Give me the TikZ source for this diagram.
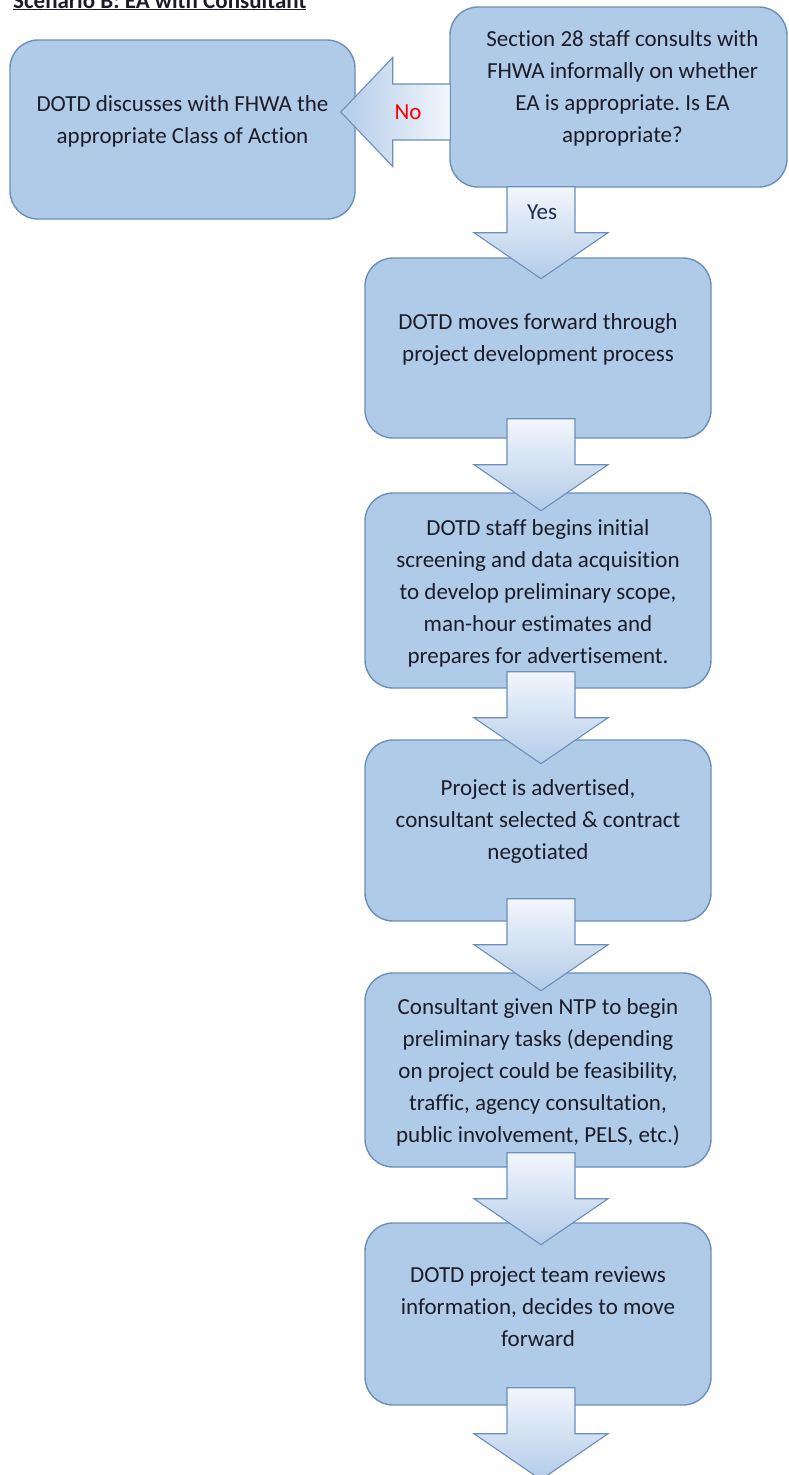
\documentclass[tikz,border=0pt]{standalone}
\usepackage{fontspec}
\setmainfont{Carlito}[Ligatures={NoCommon}]
\frenchspacing
\usetikzlibrary{calc}
\definecolor{boxfill}{HTML}{B0CBE8}
\definecolor{boxline}{HTML}{6C8EBA}
\definecolor{arrtop}{HTML}{F2F6FC}
\definecolor{arrbot}{HTML}{B3CCE9}
\definecolor{txt}{HTML}{1C1C28}
\definecolor{yescol}{HTML}{1F2A55}
\newcommand\downarr[3]{%
  \path[arrowbase, vshade] let \p1=(#1.south), \p2=(#2.north) in
    (\x2+3pt-34pt,\y1+#3) -- (\x2+3pt+34pt,\y1+#3) -- (\x2+3pt+34pt,\y1+#3-46pt)
    -- (\x2+3pt+67pt,\y1+#3-46pt) -- (\x2+3pt,\y1+#3-92pt) -- (\x2+3pt-67pt,\y1+#3-46pt)
    -- (\x2+3pt-34pt,\y1+#3-46pt) -- cycle;
}
\begin{document}
\begin{tikzpicture}[x=1pt,y=1pt,
  boxstyle/.style={draw=boxline, fill=boxfill, line width=1.4pt, rounded corners=28pt, inner sep=0pt},
  boxtext/.style={text=txt, align=center, font=\fontsize{23}{32}\selectfont, inner sep=0pt},
  arrowbase/.style={draw=boxline, line width=1.1pt, line join=miter},
  vshade/.style={top color=arrtop, bottom color=arrbot},
  hshade/.style={left color=arrbot, right color=arrtop},
  ]
\useasboundingbox (0,0) rectangle (788,-1475);

% title
\node[anchor=base west, inner sep=0pt, font=\bfseries\fontsize{23}{28}\selectfont, text=txt] (title) at (13,-8) {\underline{Scenario B: EA with Consultant}};

% boxes
\node[boxstyle, minimum width=345pt, minimum height=179pt] (cls) at (182.5,-129.5) {};
\node[boxstyle, minimum width=337pt, minimum height=180pt] (q) at (618.5,-97) {};
\node[boxstyle, minimum width=346pt, minimum height=180pt] (b2) at (538,-348) {};
\node[boxstyle, minimum width=346pt, minimum height=195pt] (b3) at (538,-590.5) {};
\node[boxstyle, minimum width=346pt, minimum height=181pt] (b4) at (538,-830.5) {};
\node[boxstyle, minimum width=346pt, minimum height=194pt] (b5) at (538,-1070) {};
\node[boxstyle, minimum width=346pt, minimum height=182pt] (b6) at (538,-1314) {};
\coordinate (end) at (538,-1500);

% "No" block arrow
\path[arrowbase, hshade] let \p1=(q.west), \p2=(cls.east) in
  (\x1+1pt,\y1-15pt+28pt) -- (\x2+37pt,\y1-15pt+28pt) -- (\x2+37pt,\y1-15pt+54.5pt)
  -- (\x2-15pt,\y1-15pt) -- (\x2+37pt,\y1-15pt-54.5pt) -- (\x2+37pt,\y1-15pt-28pt)
  -- (\x1+1pt,\y1-15pt-28pt) -- cycle;

% down block arrows
\downarr{q}{b2}{1pt}
\downarr{b2}{b3}{20pt}
\downarr{b3}{b4}{17pt}
\downarr{b4}{b5}{23pt}
\downarr{b5}{b6}{15pt}
\downarr{b6}{end}{18pt}

% texts
\node[boxtext] (tcls) at ($(cls.center)+(0,8.5)$) {DOTD discusses with FHWA the\\appropriate Class of Action};
\node[boxtext] (tq) at ($(q.center)+(4,9)$) {Section 28 staff consults with\\FHWA informally on whether\\EA is appropriate. Is EA\\appropriate?};
\node[boxtext] (t2) at ($(b2.center)+(0,9)$) {DOTD moves forward through\\project development process};
\node[boxtext] (t3) at ($(b3.center)+(0,-2.5)$) {DOTD staff begins initial\\screening and data acquisition\\to develop preliminary scope,\\man-hour estimates and\\prepares for advertisement.};
\node[boxtext] (t4) at ($(b4.center)+(0,9)$) {Project is advertised,\\consultant selected \& contract\\negotiated};
\node[boxtext] (t5) at ($(b5.center)+(0,-2)$) {Consultant given NTP to begin\\preliminary tasks (depending\\on project could be feasibility,\\traffic, agency consultation,\\public involvement, PELS, etc.)};
\node[boxtext] (t6) at ($(b6.center)+(0,7)$) {DOTD project team reviews\\information, decides to move\\forward};

% arrow labels
\node[inner sep=0pt, font=\fontsize{23}{28}\selectfont, text=red] (no) at (408,-112) {No};
\node[inner sep=0pt, font=\fontsize{23}{28}\selectfont, text=yescol] (yes) at (542,-212) {Yes};
\end{tikzpicture}
\end{document}
